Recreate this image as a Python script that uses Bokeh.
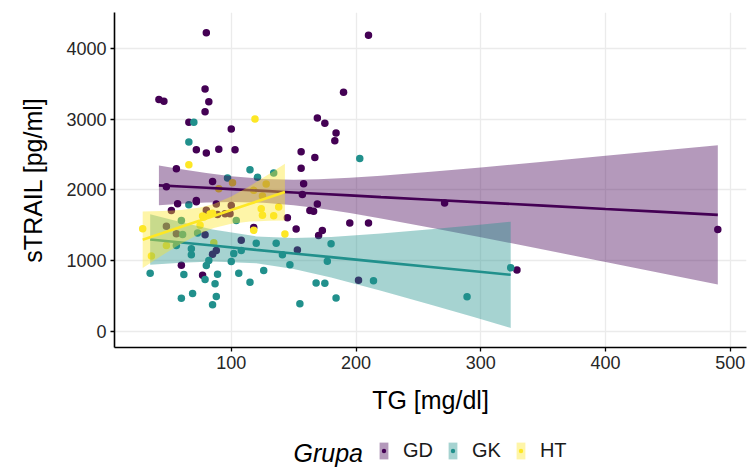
from bokeh.plotting import figure
from bokeh.layouts import column
from bokeh.models import Range1d, Legend, LegendItem, FixedTicker, Label
from bokeh.embed import file_html
from bokeh.resources import INLINE

# --- measurements: TG [mg/dl] vs sTRAIL [pg/ml] per group ---
gd_tg = [80, 210, 42, 46, 79, 82, 79, 190, 66, 100, 72, 80, 90, 103, 169, 175, 184, 183,
         156, 167, 56, 156, 85, 48, 72, 57, 72, 52, 80, 88, 100, 95, 99, 89, 158, 157, 145,
         163, 166, 169, 195, 210, 118, 152, 170, 173, 271, 329, 490, 108, 79, 88, 85, 60,
         77, 153, 202, 48, 56]
gd_strail = [4220, 4185, 3275, 3250, 3425, 3245, 3105, 3378, 2955, 2858, 2568, 2522, 2572,
             2568, 3015, 2940, 2803, 2695, 2540, 2459, 2300, 2304, 2118, 2045, 1850, 1805,
             1833, 1708, 1712, 1800, 1778, 1664, 1664, 1654, 2085, 1935, 1605, 1708, 1698,
             1800, 1531, 1531, 1470, 1447, 1357, 1426, 1813, 870, 1442, 1290, 1368, 1145,
             1090, 937, 795, 1150, 725, 1487, 1381]

gk_tg = [70, 66, 203, 115, 134, 121, 97, 66, 60, 104, 120, 136, 180, 68, 68, 102, 108,
         100, 82, 80, 35, 62, 89, 79, 87, 106, 115, 126, 147, 141, 177, 168, 175, 214, 184,
         155, 69, 60, 88, 85, 289, 324, 56, 61, 73]
gk_strail = [2955, 2676, 2443, 2285, 2238, 2178, 2167, 1791, 1569, 1569, 1245, 1245, 1240,
             1169, 1084, 1100, 1145, 990, 1004, 933, 824, 806, 808, 733, 674, 824, 695, 862,
             943, 1084, 992, 686, 683, 715, 474, 391, 535, 468, 495, 377, 490, 900, 1216,
             1371, 1392]

ht_tg = [119, 66, 101, 90, 128, 125, 77, 85, 83, 29, 75, 48, 36, 118, 143, 124, 125, 134,
         138, 78, 86, 118]
ht_strail = [3000, 2354, 2101, 2017, 2082, 1915, 1630, 1670, 1660, 1452, 1500, 1216, 1065,
             1430, 1376, 1734, 1640, 1635, 1757, 1616, 1254, 1993]

# --- linear trend with 95% confidence band, sampled along TG ---
gd_fit_tg = [42, 60, 80, 100, 126, 150, 170, 195, 220, 260, 300, 350, 400, 445, 490]
gd_fit = [2064, 2047, 2029, 2010, 1986, 1964, 1945, 1922, 1898, 1861, 1824, 1778, 1731, 1689, 1647]
gd_lo = [1784, 1804, 1821, 1828, 1818, 1784, 1740, 1673, 1596, 1466, 1331, 1158, 981, 822, 662]
gd_hi = [2344, 2290, 2237, 2192, 2154, 2144, 2150, 2171, 2200, 2256, 2317, 2398, 2481, 2556, 2632]

gk_fit_tg = [35, 60, 85, 120, 150, 180, 220, 260, 295, 324]
gk_fit = [1300, 1257, 1214, 1153, 1101, 1050, 980, 911, 851, 801]
gk_lo = [943, 971, 987, 963, 883, 764, 577, 378, 200, 51]
gk_hi = [1657, 1543, 1441, 1343, 1319, 1336, 1383, 1444, 1502, 1551]

ht_fit_tg = [29, 45, 60, 75, 86, 100, 115, 130, 143]
ht_fit = [1296, 1390, 1479, 1567, 1632, 1715, 1803, 1892, 1969]
ht_lo = [896, 1079, 1242, 1383, 1462, 1523, 1552, 1565, 1569]
ht_hi = [1696, 1701, 1716, 1751, 1802, 1907, 2054, 2219, 2369]

groups = ["GD", "GK", "HT"]
colors = {"GD": "#440154", "GK": "#21908C", "HT": "#FDE725"}
x_ticks = [100, 200, 300, 400, 500]
y_ticks = [0, 1000, 2000, 3000, 4000]

FONT = "Liberation Sans"
BAND_ALPHA = 0.4
DOT_SIZE = 7.5

p = figure(frame_width=632, frame_height=335, output_backend="svg", toolbar_location=None,
           x_range=Range1d(6.4, 513), y_range=Range1d(-226, 4505),
           min_border_left=114, min_border_right=2, min_border_top=12,
           min_border_bottom=78)

p.background_fill_color = "white"
p.border_fill_color = "white"
p.outline_line_color = None

# grid
for g in (p.xgrid, p.ygrid):
    g.grid_line_color = "#EBEBEB"
    g.grid_line_width = 1.3
p.xgrid.ticker = FixedTicker(ticks=x_ticks)
p.ygrid.ticker = FixedTicker(ticks=y_ticks)

# axes
p.xaxis.ticker = FixedTicker(ticks=x_ticks)
p.yaxis.ticker = FixedTicker(ticks=y_ticks)
for ax in (p.xaxis, p.yaxis):
    ax.axis_line_color = "black"
    ax.axis_line_width = 1.6
    ax.major_tick_line_color = "black"
    ax.major_tick_line_width = 1.3
    ax.major_tick_out = 4
    ax.major_tick_in = 0
    ax.minor_tick_line_color = None
    ax.major_label_text_font = FONT
    ax.major_label_text_font_size = "18px"
    ax.major_label_text_color = "#262626"
    ax.axis_label_text_font = FONT
    ax.axis_label_text_font_size = "25px"
    ax.axis_label_text_font_style = "normal"
    ax.axis_label_text_color = "black"
    ax.major_label_standoff = 4
p.xaxis.axis_label = "TG [mg/dl]"
p.yaxis.axis_label = "sTRAIL [pg/ml]"
p.xaxis.axis_label_standoff = 14
p.yaxis.axis_label_standoff = 16

data = {
    "GD": (gd_tg, gd_strail, gd_fit_tg, gd_fit, gd_lo, gd_hi),
    "GK": (gk_tg, gk_strail, gk_fit_tg, gk_fit, gk_lo, gk_hi),
    "HT": (ht_tg, ht_strail, ht_fit_tg, ht_fit, ht_lo, ht_hi),
}

# points first, then bands and trend lines on top
for g in groups:
    tg, val = data[g][0], data[g][1]
    p.scatter(tg, val, size=DOT_SIZE, fill_color=colors[g], line_color=None)

for g in groups:
    _, _, ftg, fit, lo, hi = data[g]
    p.varea(x=ftg, y1=lo, y2=hi, fill_color=colors[g], fill_alpha=BAND_ALPHA)
    p.line(ftg, fit, line_color=colors[g], line_width=2.6)

# --- legend strip under the plot (its frame lines up with the plot frame) ---
LEG_H = 470 - 425
q = figure(width=748, height=LEG_H, output_backend="svg", toolbar_location=None,
           x_range=Range1d(114, 746), y_range=Range1d(0, LEG_H),
           min_border=0, outline_line_color=None)
q.axis.visible = False
q.grid.visible = False
q.background_fill_color = "white"
q.border_fill_color = "white"

# key glyphs: one off-screen sample each, only their legend swatches show
items = []
for g in groups:
    band_key = q.varea(x=[-50, -40], y1=[0, 0], y2=[1, 1],
                       fill_color=colors[g], fill_alpha=BAND_ALPHA)
    dot_key = q.scatter([-50], [0], size=DOT_SIZE, fill_color=colors[g], line_color=None)
    items.append(LegendItem(label=g, renderers=[band_key, dot_key]))

legend = Legend(items=items, orientation="horizontal", location=(264, 8),
                label_text_font=FONT, label_text_font_size="20px",
                label_text_color="#1a1a1a",
                glyph_width=11, glyph_height=21, label_standoff=14, spacing=14,
                padding=0, margin=0, border_line_color=None, background_fill_alpha=0)
q.add_layout(legend, "center")

q.add_layout(Label(x=293, y=18, text="Grupa", text_font=FONT,
                   text_font_style="italic", text_font_size="25px",
                   text_baseline="middle", text_align="left", text_color="black"))

open("out.html", "w").write(file_html(column(p, q, spacing=0), INLINE))
